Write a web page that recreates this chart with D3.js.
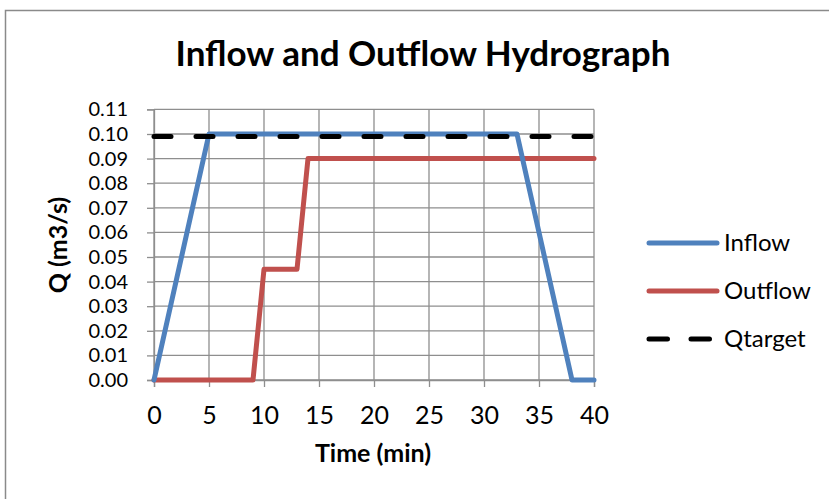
<!DOCTYPE html>
<html>
<head>
<meta charset="utf-8">
<script src="https://cdn.jsdelivr.net/npm/d3@7"></script>
<style>
  body { margin: 0; background: #fff; }
  svg { font-family: Lato, "Open Sans", sans-serif; }
</style>
</head>
<body>
<div id="chart"></div>
<script>
// series data
let inflowTime = [0, 5, 33, 38, 40]
let inflowQ    = [0, 0.1, 0.1, 0, 0]
let outflowTime = [0, 9, 10, 13, 14, 40]
let outflowQ    = [0, 0, 0.045, 0.045, 0.09, 0.09]
let qtarget = 0.099
let xTicks = [0, 5, 10, 15, 20, 25, 30, 35, 40]
let yTicks = [0, 0.01, 0.02, 0.03, 0.04, 0.05, 0.06, 0.07, 0.08, 0.09, 0.10, 0.11]
let seriesNames = ["Inflow", "Outflow", "Qtarget"]

let width = 829, height = 499
let plot = {left: 154, right: 594, top: 109.4, bottom: 380}
let grid_color = "#8e8e8e"
let line_w = 5

let svg = d3.select("#chart").append("svg")
    .attr("width", width).attr("height", height)

// outer chart frame (runs off the right and bottom edges)
svg.append("rect")
    .attr("x", 5.5).attr("y", 10.5)
    .attr("width", 900).attr("height", 600)
    .attr("fill", "#fff").attr("stroke", "#8a8a8a").attr("stroke-width", 1.5)

let x = d3.scaleLinear().domain([0, 40]).range([plot.left, plot.right])
let y = d3.scaleLinear().domain([0, 0.11]).range([plot.bottom, plot.top])

// gridlines
svg.append("g").selectAll("line").data(yTicks).enter().append("line")
    .attr("x1", plot.left).attr("x2", plot.right)
    .attr("y1", d => y(d)).attr("y2", d => y(d))
    .attr("stroke", grid_color).attr("stroke-width", 1.3)
svg.append("g").selectAll("line").data(xTicks).enter().append("line")
    .attr("x1", d => x(d)).attr("x2", d => x(d))
    .attr("y1", plot.top).attr("y2", plot.bottom)
    .attr("stroke", grid_color).attr("stroke-width", 1.3)

// axes
let yAxis = d3.axisLeft(y).tickValues(yTicks).tickFormat(d3.format(".2f")).tickSize(7).tickPadding(19)
let xAxis = d3.axisBottom(x).tickValues(xTicks).tickSize(7).tickPadding(19)

let gy = svg.append("g").attr("transform", `translate(${plot.left},0)`).call(yAxis)
let gx = svg.append("g").attr("transform", `translate(0,${plot.bottom})`).call(xAxis)
for (let g of [gx, gy]) {
    g.select(".domain").attr("stroke", grid_color).attr("stroke-width", 1.3)
    g.selectAll(".tick line").attr("stroke", grid_color).attr("stroke-width", 1.3)
    g.selectAll(".tick text").attr("fill", "#000")
        .style("font-family", "Lato, 'Open Sans', sans-serif")
}
gx.selectAll(".tick text").style("font-size", "25px")
gy.selectAll(".tick text").style("font-size", "20px")

// lines
let line = d3.line().x(d => x(d[0])).y(d => y(d[1]))
let inflow = inflowTime.map((t, i) => [t, inflowQ[i]])
let outflow = outflowTime.map((t, i) => [t, outflowQ[i]])

svg.append("path").datum(outflow).attr("d", line)
    .attr("fill", "none").attr("stroke", "#c0504d").attr("stroke-width", line_w)
    .attr("stroke-linejoin", "round").attr("stroke-linecap", "round")
svg.append("path").datum(inflow).attr("d", line)
    .attr("fill", "none").attr("stroke", "#4f81bd").attr("stroke-width", line_w)
    .attr("stroke-linejoin", "round").attr("stroke-linecap", "round")
svg.append("path").datum([[0, qtarget], [40, qtarget]]).attr("d", line)
    .attr("fill", "none").attr("stroke", "#000").attr("stroke-width", line_w)
    .attr("stroke-dasharray", "17 25").attr("stroke-linecap", "round")

// titles
svg.append("text").attr("x", 423).attr("y", 66).attr("text-anchor", "middle")
    .style("font-size", "35px").style("font-weight", "bold").text("Inflow and Outflow Hydrograph")
svg.append("text").attr("x", 373).attr("y", 462).attr("text-anchor", "middle")
    .style("font-size", "25px").style("font-weight", "bold").text("Time (min)")
svg.append("text").attr("transform", "translate(67,245) rotate(-90)").attr("text-anchor", "middle")
    .style("font-size", "25px").style("font-weight", "bold").text("Q (m3/s)")

// legend
let colors = ["#4f81bd", "#c0504d", "#000"]
let leg = svg.append("g").selectAll("g").data(seriesNames).enter().append("g")
    .attr("transform", (d, i) => `translate(0,${243 + i * 48})`)
leg.append("line").attr("x1", 649).attr("x2", 717).attr("y1", 0).attr("y2", 0)
    .attr("stroke", (d, i) => colors[i]).attr("stroke-width", line_w).attr("stroke-linecap", "round")
    .attr("stroke-dasharray", (d, i) => i == 2 ? "18.5 23.5" : null)
leg.append("text").attr("x", 724).attr("y", 8).style("font-size", "24px").text(d => d)
</script>
</body>
</html>
